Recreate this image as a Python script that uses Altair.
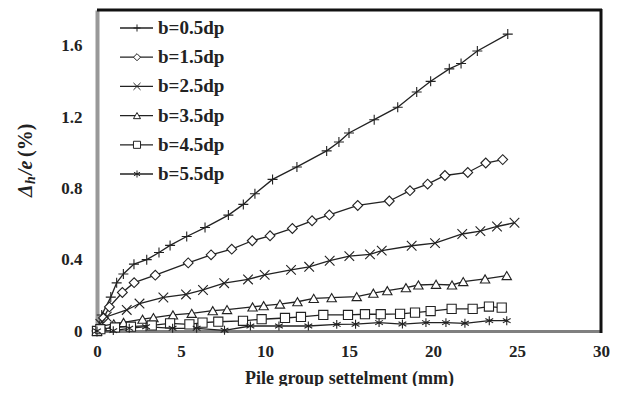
import altair as alt
import pandas as pd

series_names = ["b=0.5dp", "b=1.5dp", "b=2.5dp", "b=3.5dp", "b=4.5dp", "b=5.5dp"]

x_05 = [0, 0.28, 0.82, 1.17, 1.57, 2.2, 2.96, 3.69, 4.35, 5.34, 6.43, 7.82, 8.71, 9.40, 10.45, 11.9, 13.67, 14.4, 15.0, 16.5, 17.9, 19.03, 19.86, 20.97, 21.67, 22.64, 24.45]
y_05 = [0, 0.09, 0.19, 0.27, 0.32, 0.375, 0.40, 0.44, 0.48, 0.53, 0.58, 0.65, 0.71, 0.77, 0.85, 0.92, 1.01, 1.06, 1.11, 1.185, 1.255, 1.34, 1.40, 1.47, 1.50, 1.57, 1.665]

x_15 = [0, 0.39, 0.74, 1.51, 2.21, 3.47, 5.43, 6.79, 8.02, 9.24, 10.3, 11.63, 12.8, 13.83, 15.52, 17.4, 18.63, 19.68, 20.71, 22.07, 23.14, 24.15]
y_15 = [0, 0.073, 0.135, 0.216, 0.271, 0.313, 0.382, 0.427, 0.459, 0.506, 0.534, 0.575, 0.618, 0.651, 0.704, 0.729, 0.787, 0.824, 0.872, 0.889, 0.942, 0.961]

x_25 = [0, 0.2, 0.58, 1.77, 2.53, 3.95, 5.30, 6.31, 7.57, 8.99, 9.98, 11.55, 12.63, 13.85, 15.02, 16.25, 16.95, 18.73, 20.12, 21.74, 22.82, 23.81, 24.85]
y_25 = [0, 0.04, 0.080, 0.118, 0.154, 0.188, 0.205, 0.23, 0.268, 0.289, 0.315, 0.343, 0.36, 0.394, 0.42, 0.43, 0.451, 0.478, 0.493, 0.544, 0.56, 0.586, 0.607]

x_35 = [0, 0.28, 1.0, 1.58, 2.71, 3.36, 4.52, 5.64, 6.89, 7.74, 9.26, 9.92, 10.89, 11.93, 12.9, 13.97, 15.46, 16.45, 17.28, 18.39, 19.13, 20.18, 21.13, 21.8, 23.1, 24.39]
y_35 = [0, 0.028, 0.04, 0.048, 0.066, 0.075, 0.09, 0.099, 0.114, 0.12, 0.135, 0.142, 0.151, 0.164, 0.183, 0.187, 0.193, 0.212, 0.226, 0.243, 0.258, 0.262, 0.258, 0.277, 0.292, 0.311]

x_45 = [0, 0.2, 1.07, 2.02, 3.26, 4.35, 5.5, 6.28, 7.22, 8.69, 9.8, 11.19, 12.14, 13.47, 14.94, 15.95, 16.89, 18.04, 18.93, 19.86, 21.11, 22.36, 23.33, 24.09]
y_45 = [0, 0.01, 0.02, 0.024, 0.031, 0.043, 0.037, 0.047, 0.052, 0.057, 0.066, 0.073, 0.079, 0.09, 0.09, 0.094, 0.094, 0.096, 0.103, 0.112, 0.124, 0.124, 0.137, 0.131]

x_55 = [0, 0.97, 1.92, 2.92, 4.5, 5.93, 7.59, 9.13, 10.83, 12.58, 14.27, 15.39, 16.79, 18.18, 19.58, 20.77, 21.9, 23.35, 24.39]
y_55 = [0, 0.002, 0.015, 0.024, 0.015, 0.015, 0.004, 0.028, 0.028, 0.028, 0.037, 0.038, 0.047, 0.039, 0.047, 0.047, 0.043, 0.058, 0.058]

x_ticks = [0, 5, 10, 15, 20, 25, 30]
y_ticks = [0, 0.4, 0.8, 1.2, 1.6]

x_title = "Pile group settelment (mm)"
y_title_parts = ["Δ", "h", "/e", "(%)"]

FONT = "Liberation Serif"
INK = "#222222"

rows = []
for name, xs_, ys_ in zip(series_names, [x_05, x_15, x_25, x_35, x_45, x_55],
                          [y_05, y_15, y_25, y_35, y_45, y_55]):
    for i, (xv, yv) in enumerate(zip(xs_, ys_)):
        rows.append({"series": name, "x": xv, "y": yv, "i": i})
df = pd.DataFrame(rows)

shape_scale = alt.Scale(
    domain=series_names,
    range=[
        "M-1,0L1,0M0,-1L0,1",
        "diamond",
        "M-1,-1L1,1M-1,1L1,-1",
        "triangle-up",
        "square",
        "M0,-1L0,1M-0.87,-0.5L0.87,0.5M-0.87,0.5L0.87,-0.5",
    ],
)
size_scale = alt.Scale(domain=series_names, range=[100, 80, 90, 90, 90, 90])

xs = alt.X(
    "x:Q",
    scale=alt.Scale(domain=[0, 30], nice=False),
    axis=alt.Axis(
        values=x_ticks, title=x_title, grid=False, ticks=False,
        labelFont=FONT, labelFontSize=17, labelFontWeight="bold", labelColor=INK,
        labelPadding=12, labelFlush=False,
        titleFont=FONT, titleFontSize=18, titleFontWeight="bold", titleColor=INK,
        titlePadding=10,
        domainColor="#808080", domainWidth=3,
    ),
)
ys = alt.Y(
    "y:Q",
    scale=alt.Scale(domain=[0, 1.8], nice=False),
    axis=alt.Axis(
        values=y_ticks, title=None, grid=False, ticks=False,
        labelFont=FONT, labelFontSize=17, labelFontWeight="bold", labelColor=INK,
        labelPadding=15, labelFlush=False,
        labelExpr="datum.value == 0 ? '0' : format(datum.value, '.1f')",
        domainColor="#999999", domainWidth=4,
    ),
)

base = alt.Chart(df)
lines = base.mark_line(color=INK, strokeWidth=1.3).encode(
    x=xs, y=ys, detail="series:N", order="i:Q"
)
points = base.mark_point(filled=False, fill="white", stroke=INK, strokeWidth=1.1, opacity=1).encode(
    x=xs, y=ys,
    shape=alt.Shape("series:N", scale=shape_scale, legend=None),
    size=alt.Size("series:N", scale=size_scale, legend=None),
)
main = alt.layer(lines, points)

# manual legend
leg_df = pd.DataFrame({"series": series_names})
leg_y = alt.Y("series:N", scale=alt.Scale(type="point", domain=series_names, range=[18, 164], padding=0), axis=None)
leg_base = alt.Chart(leg_df)
leg_rule = leg_base.mark_rule(color=INK, strokeWidth=1.3).encode(
    x=alt.value(23), x2=alt.value(56), y=leg_y
)
leg_pts = leg_base.mark_point(filled=False, fill="white", stroke=INK, strokeWidth=1.0, opacity=1).encode(
    x=alt.value(40), y=leg_y,
    shape=alt.Shape("series:N", scale=shape_scale, legend=None),
    size=alt.value(50),
)
leg_txt = leg_base.mark_text(
    font=FONT, fontSize=19, fontWeight="bold", color=INK, align="left", baseline="middle"
).encode(x=alt.value(61), y=leg_y, text="series:N")
legend = alt.layer(leg_rule, leg_pts, leg_txt)

# frame: top and right borders
frame_top = alt.Chart(pd.DataFrame({"k": [0]})).mark_rule(color="#111111", strokeWidth=3).encode(
    x=alt.value(0), x2=alt.value(505), y=alt.value(0)
)
frame_right = alt.Chart(pd.DataFrame({"k": [0]})).mark_rule(color="#111111", strokeWidth=3).encode(
    x=alt.value(504), y=alt.value(-1), y2=alt.value(323)
)

# y-axis title pieces (rotated)
def title_piece(txt, xpos, ypos, size, italic):
    return alt.Chart(pd.DataFrame({"t": [txt]})).mark_text(
        font=FONT, fontSize=size, fontWeight="bold",
        fontStyle="italic" if italic else "normal",
        color=INK, angle=270, align="left", baseline="middle",
    ).encode(x=alt.value(xpos), y=alt.value(ypos), text="t:N")

yt = [
    title_piece(y_title_parts[0], -71, 187, 20, True),
    title_piece(y_title_parts[1], -66, 174, 14, True),
    title_piece(y_title_parts[2], -71, 165, 20, True),
    title_piece(y_title_parts[3], -71, 147, 20, False),
]

chart = alt.layer(
    main, legend, frame_top, frame_right, *yt
).resolve_scale(y="independent").properties(
    width=504, height=321,
    autosize=alt.AutoSizeParams(type="none"),
    padding={"left": 89, "top": 2, "right": 15, "bottom": 55},
).configure_view(stroke=None).configure(background="white")

chart.save("out.html", embed_options={"renderer": "svg", "actions": False})
